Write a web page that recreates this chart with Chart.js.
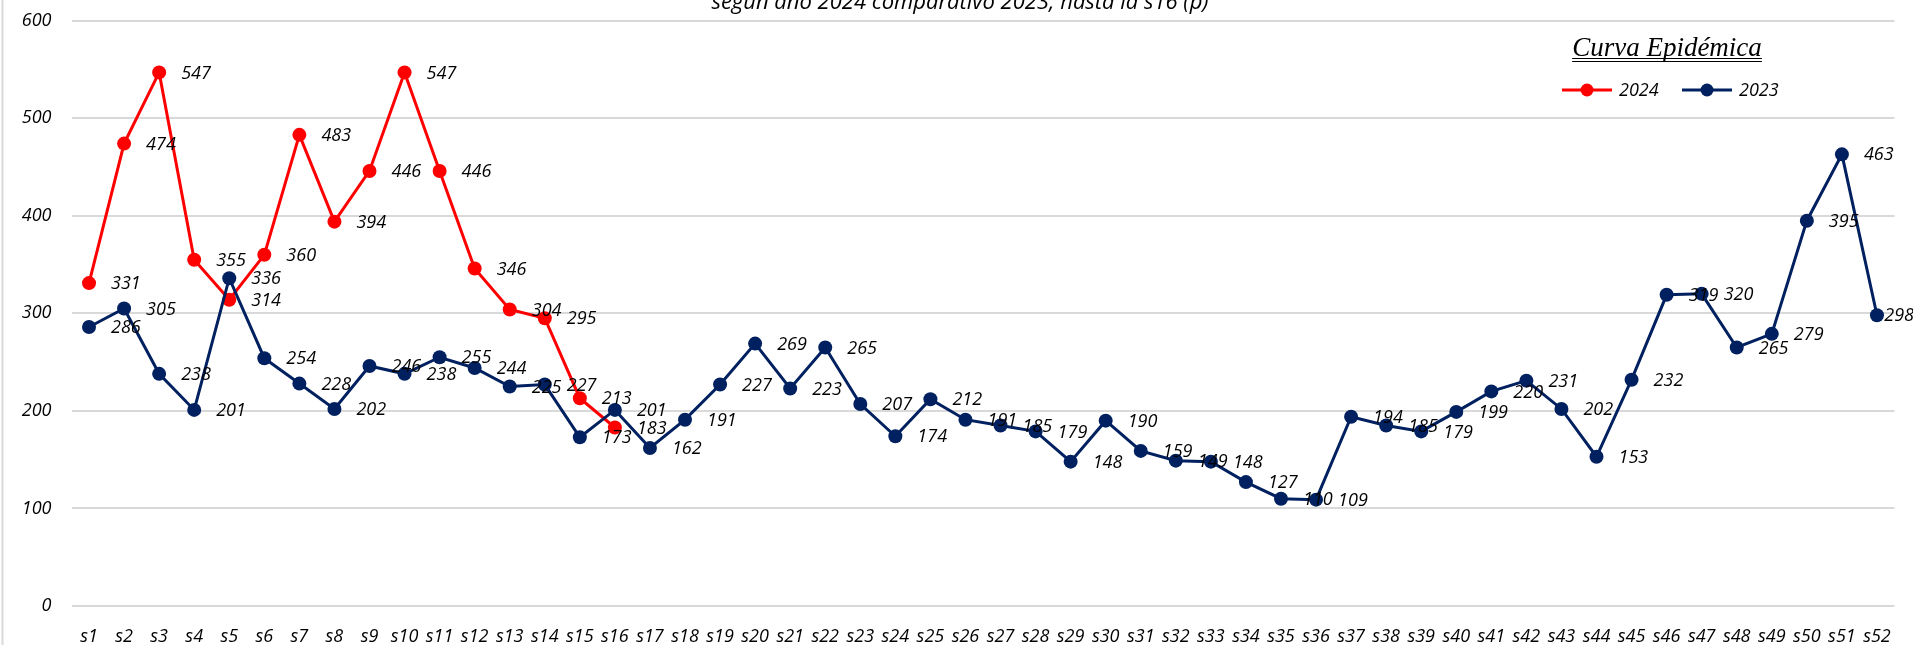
<!DOCTYPE html>
<html>
<head>
<meta charset="utf-8">
<script src="https://cdn.jsdelivr.net/npm/chart.js@4.4.0/dist/chart.umd.min.js"></script>
<style>
  html, body { margin: 0; padding: 0; background: #fff; overflow: hidden; }
  canvas { display: block; }
</style>
</head>
<body>
<canvas id="myChart" width="1913" height="645"></canvas>
<script>
const semanas = ['s1','s2','s3','s4','s5','s6','s7','s8','s9','s10','s11','s12','s13','s14','s15','s16','s17','s18','s19','s20',
  's21','s22','s23','s24','s25','s26','s27','s28','s29','s30','s31','s32','s33','s34','s35','s36','s37','s38','s39','s40',
  's41','s42','s43','s44','s45','s46','s47','s48','s49','s50','s51','s52'];

const casos2024 = [331, 474, 547, 355, 314, 360, 483, 394, 446, 547, 446, 346, 304, 295, 213, 183];

const casos2023 = [286, 305, 238, 201, 336, 254, 228, 202, 246, 238, 255, 244, 225, 227, 173, 201, 162, 191, 227, 269,
  223, 265, 207, 174, 212, 191, 185, 179, 148, 190, 159, 149, 148, 127, 110, 109, 194, 185, 179, 199,
  220, 231, 202, 153, 232, 319, 320, 265, 279, 395, 463, 298];

const titulo = 'según año 2024 comparativo 2023, hasta la s16 (p)';
const subtitulo = 'Curva Epidémica';

const rojo = '#FF0000';
const azul = '#002060';
const fuente = '"Open Sans", sans-serif';

const ctx = document.getElementById('myChart');

// white background + left border of the chart box
const fondo = {
  id: 'fondo',
  beforeDraw(chart) {
    const c = chart.ctx;
    c.save();
    c.fillStyle = '#fff';
    c.fillRect(0, 0, chart.width, chart.height);
    c.strokeStyle = '#D9D9D9';
    c.lineWidth = 2;
    c.beginPath();
    c.moveTo(2.5, 0);
    c.lineTo(2.5, chart.height);
    c.stroke();
    c.restore();
  }
};

// value labels to the right of each point (kept inside the canvas)
const etiquetas = {
  id: 'etiquetas',
  afterDatasetsDraw(chart) {
    const c = chart.ctx;
    c.save();
    c.font = 'italic 18px ' + fuente;
    c.fillStyle = '#000';
    c.textAlign = 'left';
    c.textBaseline = 'middle';
    chart.data.datasets.forEach((ds, i) => {
      const meta = chart.getDatasetMeta(i);
      meta.data.forEach((pt, j) => {
        const txt = String(ds.data[j]);
        const w = c.measureText(txt).width;
        const x = Math.min(pt.x + 22, chart.width - w + 1);
        c.fillText(txt, x, pt.y + 1);
      });
    });
    c.restore();
  }
};

// cut title, "Curva Epidémica" and legend
const encabezado = {
  id: 'encabezado',
  afterDraw(chart) {
    const c = chart.ctx;
    c.save();
    c.fillStyle = '#000';
    c.font = 'italic 22px ' + fuente;
    c.textAlign = 'center';
    c.textBaseline = 'alphabetic';
    c.fillText(titulo, 960, 8.5);

    c.font = 'italic 27px "Liberation Serif", serif';
    c.fillText(subtitulo, 1667, 56);
    const w = c.measureText(subtitulo).width;
    c.strokeStyle = '#000';
    c.lineWidth = 1.2;
    [58.5, 61.5].forEach(y => {
      c.beginPath();
      c.moveTo(1667 - w / 2, y);
      c.lineTo(1667 + w / 2, y);
      c.stroke();
    });

    const items = [
      { label: '2024', color: rojo, x: 1562 },
      { label: '2023', color: azul, x: 1682 }
    ];
    c.font = 'italic 18px ' + fuente;
    c.textAlign = 'left';
    c.textBaseline = 'middle';
    items.forEach(it => {
      c.strokeStyle = it.color;
      c.lineWidth = 3;
      c.beginPath();
      c.moveTo(it.x, 90);
      c.lineTo(it.x + 50, 90);
      c.stroke();
      c.fillStyle = it.color;
      c.beginPath();
      c.arc(it.x + 25, 90, 6.5, 0, Math.PI * 2);
      c.fill();
      c.fillStyle = '#000';
      c.fillText(it.label, it.x + 57, 91);
    });
    c.restore();
  }
};

let chart = new Chart(ctx, {
  type: 'line',
  data: {
    labels: semanas,
    datasets: [{
      label: '2024',
      data: casos2024,
      borderColor: rojo,
      backgroundColor: rojo,
      borderWidth: 3,
      pointRadius: 7,
      pointBorderWidth: 0,
      tension: 0,
      order: 1
    }, {
      label: '2023',
      data: casos2023,
      borderColor: azul,
      backgroundColor: azul,
      borderWidth: 3,
      pointRadius: 7,
      pointBorderWidth: 0,
      tension: 0,
      order: 0
    }]
  },
  options: {
    responsive: false,
    animation: false,
    layout: { padding: { left: 0, right: 18.5, top: 20.7, bottom: 0 } },
    plugins: {
      legend: { display: false },
      tooltip: { enabled: false },
      title: { display: false }
    },
    scales: {
      x: {
        offset: true,
        grid: { display: false, drawTicks: false },
        border: { display: false },
        ticks: {
          autoSkip: false,
          maxRotation: 0,
          color: '#000',
          padding: 20,
          font: { family: fuente, size: 18, style: 'italic' }
        },
        afterFit(scale) {
          scale.height = 39;
          scale.paddingLeft = 0;
          scale.paddingRight = 0;
        }
      },
      y: {
        min: 0,
        max: 600,
        grid: { color: '#D9D9D9', lineWidth: 2, drawTicks: false },
        border: { display: false },
        ticks: {
          stepSize: 100,
          color: '#000',
          padding: 20,
          font: { family: fuente, size: 18, style: 'italic' }
        },
        afterFit(scale) {
          scale.width = 71.5;
          scale.paddingTop = 0;
          scale.paddingBottom = 0;
        }
      }
    }
  },
  plugins: [fondo, etiquetas, encabezado]
});
</script>
</body>
</html>
